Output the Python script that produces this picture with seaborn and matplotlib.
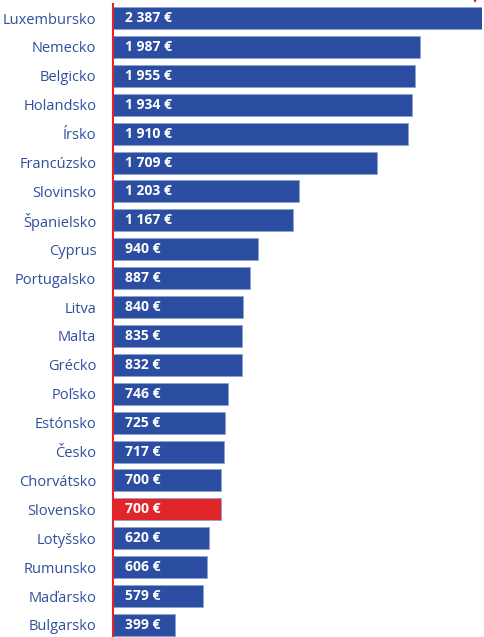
import matplotlib
matplotlib.use("Agg")
import pandas as pd
import matplotlib.pyplot as plt
import seaborn as sns

# Data
krajiny = ["Luxembursko", "Nemecko", "Belgicko", "Holandsko", "Írsko", "Francúzsko",
           "Slovinsko", "Španielsko", "Cyprus", "Portugalsko", "Litva", "Malta",
           "Grécko", "Poľsko", "Estónsko", "Česko", "Chorvátsko", "Slovensko",
           "Lotyšsko", "Rumunsko", "Maďarsko", "Bulgarsko"]
mzda = [2387, 1987, 1955, 1934, 1910, 1709, 1203, 1167, 940, 887, 840, 835,
        832, 746, 725, 717, 700, 700, 620, 606, 579, 399]
popisky = ["2 387 €", "1 987 €", "1 955 €", "1 934 €", "1 910 €", "1 709 €",
           "1 203 €", "1 167 €", "940 €", "887 €", "840 €", "835 €", "832 €",
           "746 €", "725 €", "717 €", "700 €", "700 €", "620 €", "606 €",
           "579 €", "399 €"]

df = pd.DataFrame({"krajina": krajiny, "mzda": mzda})
modra = "#2B4EA2"
cervena = "#E0262B"
farby = {k: (cervena if k == "Slovensko" else modra) for k in krajiny}

sns.set_style("white")
plt.rcParams["font.family"] = ["Open Sans", "DejaVu Sans"]

fig = plt.figure(figsize=(4.84, 6.37), dpi=100)
ax = fig.add_axes([113 / 484, 0, (482 - 113) / 484, 1])
sns.barplot(data=df, y="krajina", x="mzda", hue="krajina", palette=farby,
            legend=False, width=0.76, edgecolor="#8FA3D0", linewidth=0.6,
            saturation=1, ax=ax)

ax.set_xlim(0, 2387)
ax.set_ylim(21 + 12 / 28.9, -18 / 28.9)
ax.set_xlabel("")
ax.set_ylabel("")
ax.set_xticks([])
ax.tick_params(axis="y", length=0, pad=12, labelsize=10.5, labelcolor="#2F4E9C")

for s in ["top", "right", "bottom"]:
    ax.spines[s].set_visible(False)
ax.spines["left"].set_color(cervena)
ax.spines["left"].set_linewidth(1.5)
ax.spines["left"].set_bounds(21 + 12 / 28.9, -0.5)

# hodnoty v stĺpcoch
for i, txt in enumerate(popisky):
    ax.text(78, i, txt, color="white", fontsize=10, fontweight="bold",
            va="center", ha="left")

# malá šípka vpravo hore
ax.annotate("", xy=(2342, -0.42), xytext=(2342, -0.75),
            arrowprops=dict(arrowstyle="-|>", color=cervena, lw=1, mutation_scale=6),
            annotation_clip=False)

fig.savefig("out.png", dpi=100)
